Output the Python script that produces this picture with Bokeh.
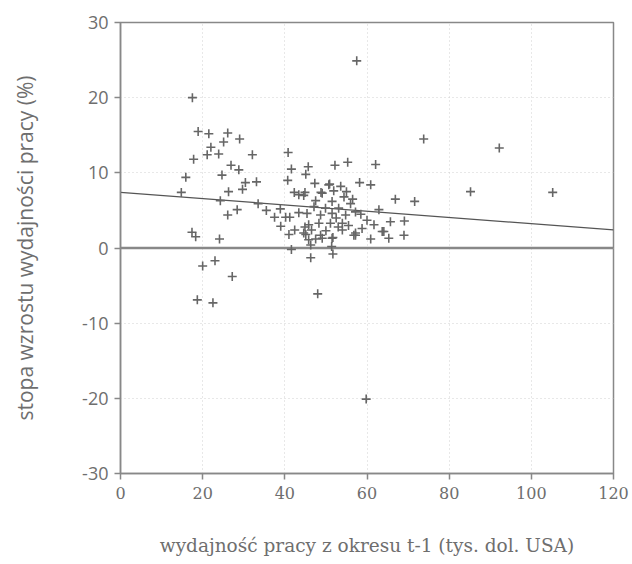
from bokeh.plotting import figure
from bokeh.models import ColumnDataSource, FixedTicker, PrintfTickFormatter
from bokeh.embed import file_html
from bokeh.resources import INLINE

# --- data ---
prod_x = [
    17.5, 18.9, 21.5, 26.1, 29.0, 22.0, 25.1, 21.1, 23.9, 32.1, 17.8, 26.9, 28.8, 15.9, 24.7,
    30.4, 33.1, 14.8, 26.3, 29.7, 24.3, 28.4, 26.1, 17.4, 18.3, 24.1, 23.0, 20.0, 27.2, 18.7, 22.5,
    40.8, 45.7, 41.6, 45.1, 52.2, 40.7, 47.3, 50.9, 42.3, 43.4, 44.9, 48.8, 33.5, 35.5, 38.9,
    37.5, 39.0, 40.2, 41.2, 43.4, 42.4, 41.0, 41.6, 46.3, 51.7, 48.0, 45.8, 45.1, 44.9, 47.5,
    49.1, 51.4, 51.7,
    55.3, 62.1, 58.2, 60.9, 66.9, 71.6, 62.9, 65.7, 69.1, 57.2, 60.9, 65.3, 69.0, 54.0, 58.8, 64.1,
    73.8, 92.2, 85.2, 105.2, 57.5, 59.8,
    50.7, 53.6, 49.1, 51.9, 44.6, 54.4, 51.5, 56.0, 47.1, 49.9, 53.1, 45.4, 48.7, 51.5, 54.8,
    57.2, 60.0, 45.8, 48.3, 51.1, 54.0, 61.7, 44.6, 48.7, 57.2, 63.7, 51.5,
    52.5, 55.5, 50.0, 46.5, 53.0, 56.5, 58.5, 47.5, 55.0, 46.3, 56.8,
]
growth_y = [
    20.0, 15.5, 15.2, 15.3, 14.5, 13.4, 14.1, 12.4, 12.5, 12.4, 11.8, 11.0, 10.4, 9.4, 9.7,
    8.7, 8.8, 7.4, 7.5, 7.8, 6.3, 5.1, 4.4, 2.1, 1.5, 1.2, -1.7, -2.4, -3.8, -6.9, -7.3,
    12.7, 10.8, 10.5, 9.8, 11.0, 9.0, 8.6, 8.5, 7.4, 7.1, 7.4, 7.4, 5.9, 5.0, 5.2,
    4.1, 2.9, 4.1, 4.1, 4.7, 2.4, 1.8, -0.2, -1.3, -0.8, -6.1, 1.1, 1.8, 2.8, 1.2,
    1.3, 0.2, 1.4,
    11.4, 11.1, 8.7, 8.4, 6.5, 6.2, 5.1, 3.5, 3.6, 1.7, 1.2, 1.3, 1.7, 2.4, 2.6, 2.2,
    14.5, 13.3, 7.5, 7.4, 24.9, -20.1,
    8.4, 8.2, 7.3, 7.6, 7.0, 6.8, 6.2, 5.9, 5.5, 5.3, 5.3, 4.6, 4.4, 4.6, 4.4,
    4.8, 3.7, 3.1, 3.3, 3.3, 3.3, 3.1, 2.0, 1.7, 2.0, 2.2, 1.3,
    4.0, 3.0, 2.3, 2.4, 2.8, 6.5, 4.5, 6.3, 7.5, 0.4, 1.7,
]
fit_x = [0, 120]
fit_y = [7.4, 2.4]
zero_x = [0, 120]
zero_y = [0, 0]
x_ticks = [0, 20, 40, 60, 80, 100, 120]
y_ticks = [-30, -20, -10, 0, 10, 20, 30]

x_title = "wydajność pracy z okresu t-1 (tys. dol. USA)"
y_title = "stopa wzrostu wydajności pracy (%)"

GRAY = "#6e6e6e"
SERIF = "DejaVu Serif"
SANS = "Open Sans"

p = figure(width=632, height=564, output_backend="svg", toolbar_location=None,
           x_range=(0, 120), y_range=(-30, 30),
           min_border_left=120, min_border_right=19, min_border_top=22, min_border_bottom=91)
p.background_fill_color = "white"
p.border_fill_color = "white"
p.outline_line_color = "#888888"
p.outline_line_width = 1.5

# grid
for g in (p.xgrid, p.ygrid):
    g.grid_line_color = "#d0d0d0"
    g.grid_line_dash = "1 3"
    g.grid_line_width = 1
p.xgrid.ticker = FixedTicker(ticks=x_ticks)
p.ygrid.ticker = FixedTicker(ticks=y_ticks)

# axes
p.xaxis.ticker = FixedTicker(ticks=x_ticks)
p.yaxis.ticker = FixedTicker(ticks=y_ticks)
p.xaxis.formatter = PrintfTickFormatter(format="%d")
p.yaxis.formatter = PrintfTickFormatter(format="%d")
for ax in (p.xaxis, p.yaxis):
    ax.axis_line_color = "#888888"
    ax.axis_line_width = 1.5
    ax.major_tick_line_color = "#888888"
    ax.major_tick_line_width = 1.5
    ax.major_tick_in = 0
    ax.major_tick_out = 6
    ax.minor_tick_line_color = None
    ax.major_label_text_color = GRAY
    ax.axis_label_text_color = GRAY
    ax.axis_label_text_font_style = "normal"

p.xaxis.major_label_text_font = SERIF
p.xaxis.major_label_text_font_size = "16px"
p.xaxis.major_label_standoff = 7
p.xaxis.axis_label = x_title
p.xaxis.axis_label_text_font = SERIF
p.xaxis.axis_label_text_font_size = "18.5px"
p.xaxis.axis_label_standoff = 33

p.yaxis.major_label_text_font = SANS
p.yaxis.major_label_text_font_size = "18px"
p.yaxis.major_label_standoff = 6
p.yaxis.axis_label = y_title
p.yaxis.axis_label_text_font = SANS
p.yaxis.axis_label_text_font_size = "21px"
p.yaxis.axis_label_standoff = 40

# reference lines
p.line(zero_x, zero_y, line_color="#888888", line_width=2.5)
p.line(fit_x, fit_y, line_color="#555555", line_width=1.3)

# points
src = ColumnDataSource(data=dict(x=prod_x, y=growth_y))
p.scatter("x", "y", source=src, marker="cross", size=9, line_width=1.6,
          line_color="#666666")

open("out.html", "w").write(file_html(p, INLINE))
